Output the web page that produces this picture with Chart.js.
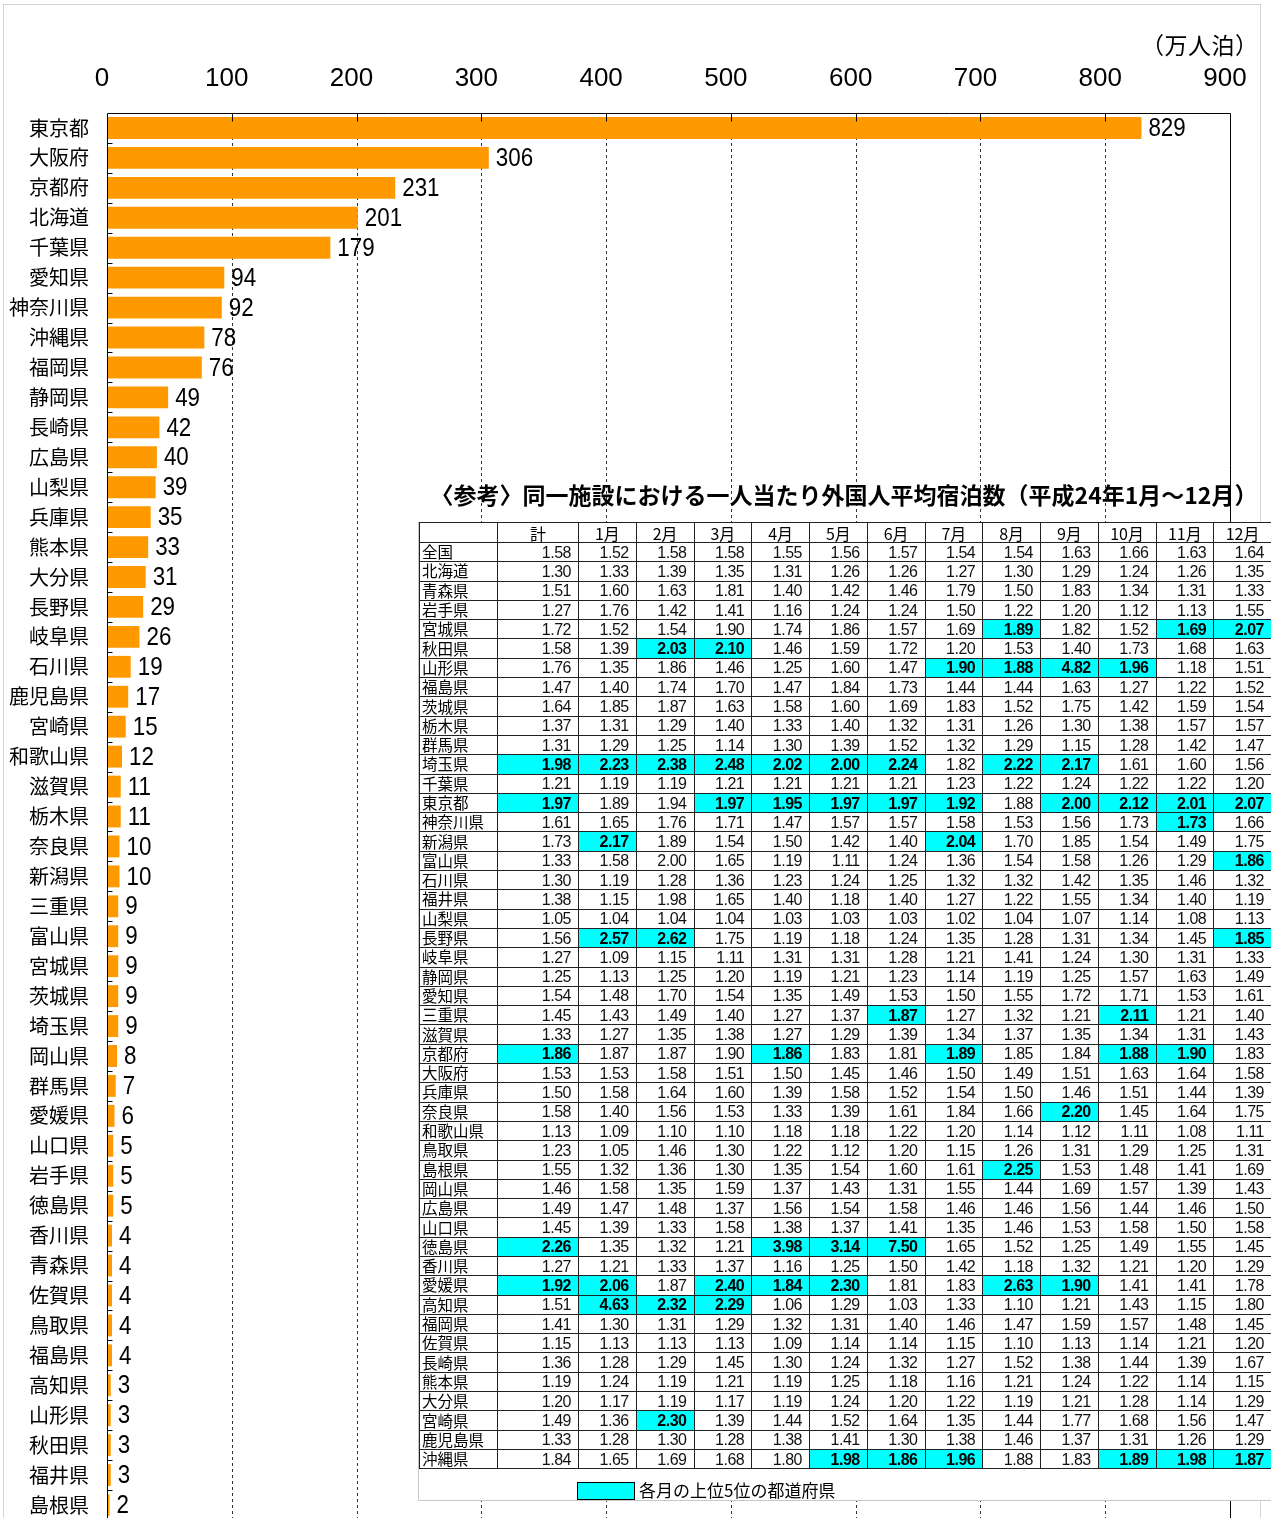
<!DOCTYPE html>
<html lang="ja">
<head>
<meta charset="utf-8">
<script src="https://cdn.jsdelivr.net/npm/chart.js@4/dist/chart.umd.min.js"></script>
<style>
  html, body { margin:0; padding:0; background:#fff; overflow:hidden; width:1271px; height:1518px; }
  #frame { position:absolute; left:3px; top:4px; width:1258px; height:1600px; border:1px solid #d4d4d4; box-sizing:border-box; }
  #wrap { position:absolute; left:0; top:0; width:1271px; height:1520px; }
  #unit { position:absolute; left:1141px; top:29px; font:23px "Noto Sans CJK JP", sans-serif; line-height:30px; color:#000; letter-spacing:0.5px; }
  #title { position:absolute; left:418px; width:852px; top:480px; text-align:center; font:bold 23px "Noto Sans CJK JP", sans-serif; line-height:28px; color:#000; white-space:nowrap; }
  #tablebox { position:absolute; left:418px; top:522px; width:853px; height:979px; background:#fff; border-left:1px solid #c8c8c8; border-bottom:1px solid #c8c8c8; box-sizing:border-box; }
  table { border-collapse:collapse; table-layout:fixed; width:852px; }
  tr { height:19.31px; }
  tr.head { height:20px; }
  td, th { border:1px solid #222; padding:0; overflow:hidden; white-space:nowrap; }
  th { font:16px "Noto Sans CJK JP", sans-serif; line-height:16px; font-weight:normal; text-align:center; }
  td.lab { font:15.5px "Noto Sans CJK JP", sans-serif; line-height:15px; text-align:left; padding:0 0 1px 2px; }
  td.num { font:16px "Liberation Sans", Arial, sans-serif; line-height:17px; letter-spacing:-0.5px; text-align:right; padding-right:7px; color:#111; }
  td.hi { background:#00ffff; font-weight:bold; color:#000; }
  #legbox { position:absolute; left:158px; top:960px; width:58px; height:18px; background:#00ffff; border:1px solid #000; box-sizing:border-box; }
  #legtext { position:absolute; left:220px; top:957px; font:17px "Noto Sans CJK JP", sans-serif; line-height:22px; color:#000; }
</style>
</head>
<body>
<div id="frame"></div>
<div id="wrap"><canvas id="c" width="1271" height="1520"></canvas></div>
<div id="unit">（万人泊）</div>
<div id="title">〈参考〉同一施設における一人当たり外国人平均宿泊数（平成24年1月～12月）</div>
<div id="tablebox"><table id="tbl"></table><div id="legbox"></div><div id="legtext">各月の上位5位の都道府県</div></div>
<script>
// ---- Bar chart data (万人泊) ----
const prefectures = ['東京都','大阪府','京都府','北海道','千葉県','愛知県','神奈川県','沖縄県','福岡県','静岡県',
  '長崎県','広島県','山梨県','兵庫県','熊本県','大分県','長野県','岐阜県','石川県','鹿児島県',
  '宮崎県','和歌山県','滋賀県','栃木県','奈良県','新潟県','三重県','富山県','宮城県','茨城県',
  '埼玉県','岡山県','群馬県','愛媛県','山口県','岩手県','徳島県','香川県','青森県','佐賀県',
  '鳥取県','福島県','高知県','山形県','秋田県','福井県','島根県'];
const stays = [829,306,231,201,179,94,92,78,76,49,
  42,40,39,35,33,31,29,26,19,17,
  15,12,11,11,10,10,9,9,9,9,
  9,8,7,6,5,5,5,4,4,4,
  4,4,3,3,3,3,2];
const axisMin = 0, axisMax = 900, axisStep = 100;

// ---- Reference table data ----
const tableCols = ['計','1月','2月','3月','4月','5月','6月','7月','8月','9月','10月','11月','12月'];
const tableRows = ['全国','北海道','青森県','岩手県','宮城県','秋田県','山形県','福島県','茨城県','栃木県','群馬県','埼玉県',
  '千葉県','東京都','神奈川県','新潟県','富山県','石川県','福井県','山梨県','長野県','岐阜県','静岡県','愛知県',
  '三重県','滋賀県','京都府','大阪府','兵庫県','奈良県','和歌山県','鳥取県','島根県','岡山県','広島県','山口県',
  '徳島県','香川県','愛媛県','高知県','福岡県','佐賀県','長崎県','熊本県','大分県','宮崎県','鹿児島県','沖縄県'];
const tableValues = [
  [1.58,1.52,1.58,1.58,1.55,1.56,1.57,1.54,1.54,1.63,1.66,1.63,1.64],
  [1.30,1.33,1.39,1.35,1.31,1.26,1.26,1.27,1.30,1.29,1.24,1.26,1.35],
  [1.51,1.60,1.63,1.81,1.40,1.42,1.46,1.79,1.50,1.83,1.34,1.31,1.33],
  [1.27,1.76,1.42,1.41,1.16,1.24,1.24,1.50,1.22,1.20,1.12,1.13,1.55],
  [1.72,1.52,1.54,1.90,1.74,1.86,1.57,1.69,1.89,1.82,1.52,1.69,2.07],
  [1.58,1.39,2.03,2.10,1.46,1.59,1.72,1.20,1.53,1.40,1.73,1.68,1.63],
  [1.76,1.35,1.86,1.46,1.25,1.60,1.47,1.90,1.88,4.82,1.96,1.18,1.51],
  [1.47,1.40,1.74,1.70,1.47,1.84,1.73,1.44,1.44,1.63,1.27,1.22,1.52],
  [1.64,1.85,1.87,1.63,1.58,1.60,1.69,1.83,1.52,1.75,1.42,1.59,1.54],
  [1.37,1.31,1.29,1.40,1.33,1.40,1.32,1.31,1.26,1.30,1.38,1.57,1.57],
  [1.31,1.29,1.25,1.14,1.30,1.39,1.52,1.32,1.29,1.15,1.28,1.42,1.47],
  [1.98,2.23,2.38,2.48,2.02,2.00,2.24,1.82,2.22,2.17,1.61,1.60,1.56],
  [1.21,1.19,1.19,1.21,1.21,1.21,1.21,1.23,1.22,1.24,1.22,1.22,1.20],
  [1.97,1.89,1.94,1.97,1.95,1.97,1.97,1.92,1.88,2.00,2.12,2.01,2.07],
  [1.61,1.65,1.76,1.71,1.47,1.57,1.57,1.58,1.53,1.56,1.73,1.73,1.66],
  [1.73,2.17,1.89,1.54,1.50,1.42,1.40,2.04,1.70,1.85,1.54,1.49,1.75],
  [1.33,1.58,2.00,1.65,1.19,1.11,1.24,1.36,1.54,1.58,1.26,1.29,1.86],
  [1.30,1.19,1.28,1.36,1.23,1.24,1.25,1.32,1.32,1.42,1.35,1.46,1.32],
  [1.38,1.15,1.98,1.65,1.40,1.18,1.40,1.27,1.22,1.55,1.34,1.40,1.19],
  [1.05,1.04,1.04,1.04,1.03,1.03,1.03,1.02,1.04,1.07,1.14,1.08,1.13],
  [1.56,2.57,2.62,1.75,1.19,1.18,1.24,1.35,1.28,1.31,1.34,1.45,1.85],
  [1.27,1.09,1.15,1.11,1.31,1.31,1.28,1.21,1.41,1.24,1.30,1.31,1.33],
  [1.25,1.13,1.25,1.20,1.19,1.21,1.23,1.14,1.19,1.25,1.57,1.63,1.49],
  [1.54,1.48,1.70,1.54,1.35,1.49,1.53,1.50,1.55,1.72,1.71,1.53,1.61],
  [1.45,1.43,1.49,1.40,1.27,1.37,1.87,1.27,1.32,1.21,2.11,1.21,1.40],
  [1.33,1.27,1.35,1.38,1.27,1.29,1.39,1.34,1.37,1.35,1.34,1.31,1.43],
  [1.86,1.87,1.87,1.90,1.86,1.83,1.81,1.89,1.85,1.84,1.88,1.90,1.83],
  [1.53,1.53,1.58,1.51,1.50,1.45,1.46,1.50,1.49,1.51,1.63,1.64,1.58],
  [1.50,1.58,1.64,1.60,1.39,1.58,1.52,1.54,1.50,1.46,1.51,1.44,1.39],
  [1.58,1.40,1.56,1.53,1.33,1.39,1.61,1.84,1.66,2.20,1.45,1.64,1.75],
  [1.13,1.09,1.10,1.10,1.18,1.18,1.22,1.20,1.14,1.12,1.11,1.08,1.11],
  [1.23,1.05,1.46,1.30,1.22,1.12,1.20,1.15,1.26,1.31,1.29,1.25,1.31],
  [1.55,1.32,1.36,1.30,1.35,1.54,1.60,1.61,2.25,1.53,1.48,1.41,1.69],
  [1.46,1.58,1.35,1.59,1.37,1.43,1.31,1.55,1.44,1.69,1.57,1.39,1.43],
  [1.49,1.47,1.48,1.37,1.56,1.54,1.58,1.46,1.46,1.56,1.44,1.46,1.50],
  [1.45,1.39,1.33,1.58,1.38,1.37,1.41,1.35,1.46,1.53,1.58,1.50,1.58],
  [2.26,1.35,1.32,1.21,3.98,3.14,7.50,1.65,1.52,1.25,1.49,1.55,1.45],
  [1.27,1.21,1.33,1.37,1.16,1.25,1.50,1.42,1.18,1.32,1.21,1.20,1.29],
  [1.92,2.06,1.87,2.40,1.84,2.30,1.81,1.83,2.63,1.90,1.41,1.41,1.78],
  [1.51,4.63,2.32,2.29,1.06,1.29,1.03,1.33,1.10,1.21,1.43,1.15,1.80],
  [1.41,1.30,1.31,1.29,1.32,1.31,1.40,1.46,1.47,1.59,1.57,1.48,1.45],
  [1.15,1.13,1.13,1.13,1.09,1.14,1.14,1.15,1.10,1.13,1.14,1.21,1.20],
  [1.36,1.28,1.29,1.45,1.30,1.24,1.32,1.27,1.52,1.38,1.44,1.39,1.67],
  [1.19,1.24,1.19,1.21,1.19,1.25,1.18,1.16,1.21,1.24,1.22,1.14,1.15],
  [1.20,1.17,1.19,1.17,1.19,1.24,1.20,1.22,1.19,1.21,1.28,1.14,1.29],
  [1.49,1.36,2.30,1.39,1.44,1.52,1.64,1.35,1.44,1.77,1.68,1.56,1.47],
  [1.33,1.28,1.30,1.28,1.38,1.41,1.30,1.38,1.46,1.37,1.31,1.26,1.29],
  [1.84,1.65,1.69,1.68,1.80,1.98,1.86,1.96,1.88,1.83,1.89,1.98,1.87]
];
// Top-5 cells per column (row name -> column indexes in tableCols)
const top5Rows = ['宮城県','秋田県','山形県','埼玉県','東京都','神奈川県','新潟県','富山県','長野県','三重県','京都府','奈良県','島根県','徳島県','愛媛県','高知県','宮崎県','沖縄県'];
const top5Cols = [[8,11,12],[2,3],[7,8,9,10],[0,1,2,3,4,5,6,8,9],[0,3,4,5,6,7,9,10,11,12],[11],[1,7],[12],[1,2,12],[6,10],[0,4,7,10,11],[9],[8],[0,4,5,6],[0,1,3,4,5,8,9],[1,2,3],[2],[5,6,7,10,11,12]];

// ---- Build table ----
(function(){
  const tbl = document.getElementById('tbl');
  const cg = document.createElement('colgroup');
  const widths = [78, 81].concat(Array(12).fill(57.75));
  widths.forEach(w => { const c = document.createElement('col'); c.style.width = w + 'px'; cg.appendChild(c); });
  tbl.appendChild(cg);
  const hr = document.createElement('tr'); hr.className = 'head';
  const h0 = document.createElement('th'); hr.appendChild(h0);
  tableCols.forEach(c => { const th = document.createElement('th'); th.textContent = c; hr.appendChild(th); });
  tbl.appendChild(hr);
  tableRows.forEach((name, r) => {
    const tr = document.createElement('tr');
    const td0 = document.createElement('td'); td0.className = 'lab'; td0.textContent = name; tr.appendChild(td0);
    const k = top5Rows.indexOf(name);
    const hi = k >= 0 ? top5Cols[k] : [];
    tableValues[r].forEach((v, ci) => {
      const td = document.createElement('td');
      td.className = 'num' + (hi.indexOf(ci) >= 0 ? ' hi' : '');
      td.textContent = v.toFixed(2);
      tr.appendChild(td);
    });
    tbl.appendChild(tr);
  });
})();

// ---- Chart ----
const NUM_FONT = '"Liberation Sans", Arial, sans-serif';
const CJK_FONT = '"Noto Sans CJK JP", sans-serif';

const framePlugin = {
  id: 'frameAndLabels',
  beforeDatasetsDraw(chart) {
    const ctx = chart.ctx, a = chart.chartArea, xs = chart.scales.x;
    ctx.save();
    ctx.strokeStyle = '#333';
    ctx.lineWidth = 1;
    ctx.setLineDash([3, 3]);
    for (let v = axisMin + axisStep; v < axisMax; v += axisStep) {
      const px = Math.round(xs.getPixelForValue(v)) + 0.5;
      ctx.beginPath(); ctx.moveTo(px, a.top); ctx.lineTo(px, a.bottom); ctx.stroke();
    }
    ctx.restore();
  },
  afterDatasetsDraw(chart) {
    const ctx = chart.ctx, a = chart.chartArea, xs = chart.scales.x, ys = chart.scales.y;
    ctx.save();
    ctx.strokeStyle = '#000';
    ctx.lineWidth = 1;
    const L = Math.round(a.left) + 0.5, R = Math.round(a.right) + 0.5, T = Math.round(a.top) + 0.5, B = a.bottom + 5;
    ctx.beginPath();
    ctx.moveTo(L, B); ctx.lineTo(L, T); ctx.lineTo(R, T); ctx.lineTo(R, B);
    ctx.stroke();
    for (let v = axisMin + axisStep; v < axisMax; v += axisStep) {
      const px = Math.round(xs.getPixelForValue(v)) + 0.5;
      ctx.beginPath(); ctx.moveTo(px, T); ctx.lineTo(px, T + 8); ctx.stroke();
    }
    for (let i = 1; i < prefectures.length; i++) {
      const py = Math.round((ys.getPixelForValue(i - 1) + ys.getPixelForValue(i)) / 2) + 0.5;
      ctx.beginPath(); ctx.moveTo(L, py); ctx.lineTo(L + 5, py); ctx.stroke();
    }
    const meta = chart.getDatasetMeta(0);
    ctx.fillStyle = '#000';
    ctx.font = '26px ' + NUM_FONT;
    ctx.textAlign = 'left';
    ctx.textBaseline = 'middle';
    meta.data.forEach((bar, i) => {
      ctx.save();
      ctx.translate(bar.x + 7, bar.y + 1);
      ctx.scale(0.86, 1);
      ctx.fillText(String(stays[i]), 0, 0);
      ctx.restore();
    });
    ctx.restore();
  }
};

new Chart(document.getElementById('c'), {
  type: 'bar',
  data: {
    labels: prefectures,
    datasets: [{
      data: stays,
      backgroundColor: '#ff9900',
      borderWidth: 0,
      barPercentage: 0.73,
      categoryPercentage: 1
    }]
  },
  options: {
    indexAxis: 'y',
    responsive: false,
    animation: false,
    devicePixelRatio: 1,
    layout: { padding: { left: 0, right: 41, top: 0, bottom: 0 } },
    plugins: { legend: { display: false }, tooltip: { enabled: false } },
    scales: {
      x: {
        position: 'top',
        min: axisMin, max: axisMax,
        afterFit(s) { s.height = 113; },
        ticks: { stepSize: axisStep, color: '#000', font: { family: NUM_FONT, size: 26 }, padding: 19, labelOffset: -5, maxRotation: 0 },
        grid: { display: false, drawTicks: false },
        border: { display: false }
      },
      y: {
        afterFit(s) { s.width = 107; s.paddingTop = 0; s.paddingBottom = 0; },
        ticks: { color: '#000', font: { family: CJK_FONT, size: 20 }, padding: 18, autoSkip: false },
        grid: { display: false, drawTicks: false },
        border: { display: false }
      }
    }
  },
  plugins: [framePlugin]
});
</script>
</body>
</html>
